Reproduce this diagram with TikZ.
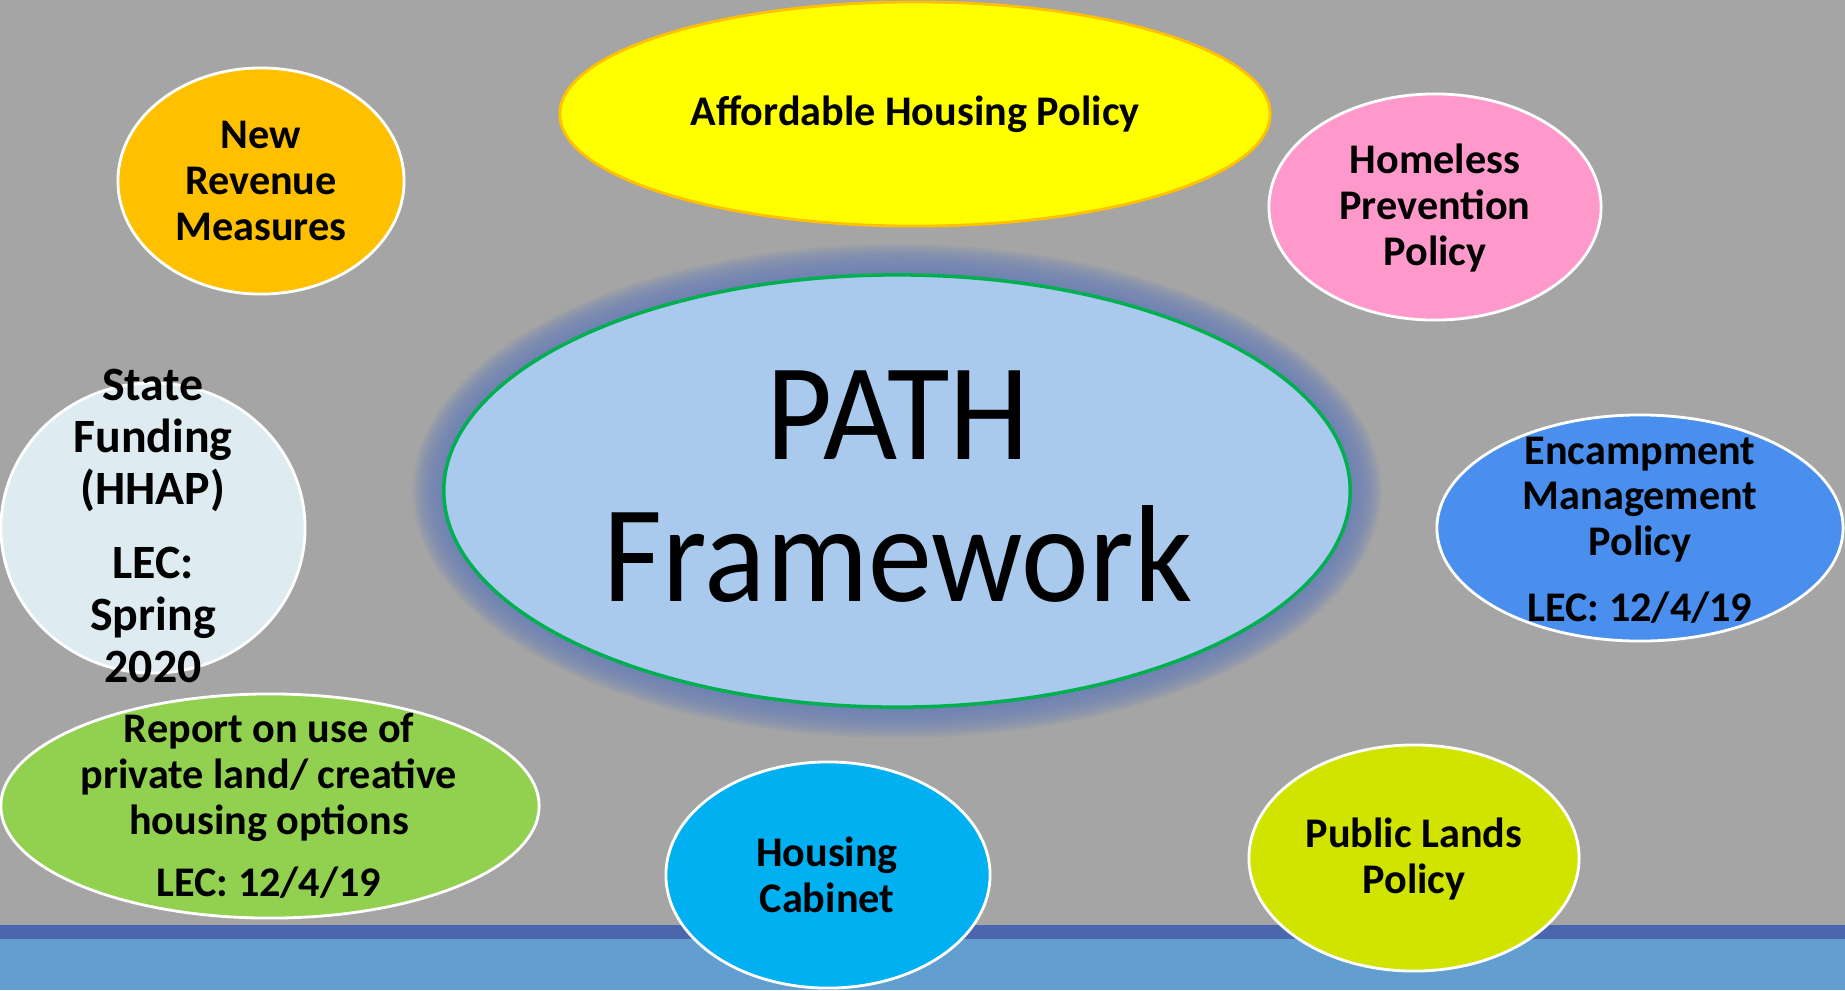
\documentclass[tikz,border=0pt]{standalone}
\usepackage{fontspec}
\setmainfont{Carlito}
\usepackage{tikz}
\usetikzlibrary{shapes.geometric}
\definecolor{slidegray}{HTML}{A5A5A5}
\definecolor{banddark}{HTML}{4A66AC}
\definecolor{bandlight}{HTML}{629FD0}
\definecolor{revorange}{HTML}{FFC000}
\definecolor{affyellow}{HTML}{FFFF00}
\definecolor{homepink}{HTML}{FF99CC}
\definecolor{pathblue}{HTML}{A9C9ED}
\definecolor{pathgreen}{HTML}{00B050}
\definecolor{glowblue}{HTML}{6C82B8}
\definecolor{statepale}{HTML}{DEEBF0}
\definecolor{reportgreen}{HTML}{92D050}
\definecolor{cabcyan}{HTML}{00B0F0}
\definecolor{landlime}{HTML}{D0E400}
\definecolor{encblue}{HTML}{4A8EEE}
\tikzstyle{bubble} = [
    ellipse,
    draw=white,
    line width=0.8pt,
    inner sep=0pt,
    minimum height=2.26cm
]
\tikzstyle{bubbletext} = [
    align=center,
    inner sep=0pt,
    font=\fontsize{12}{13}\selectfont\bfseries
]
\tikzstyle{bigtext} = [
    align=center,
    inner sep=0pt,
    font=\fontsize{13.6}{14.8}\selectfont\bfseries
]

\begin{document}
\begin{tikzpicture}[x=0.01cm, y=-0.01cm]
    % Slide background
    \useasboundingbox (0,0) rectangle (1845,990);
    \fill[slidegray] (0,0) rectangle (1845,990);
    \fill[banddark] (0,925) rectangle (1845,939);
    \fill[bandlight] (0,939) rectangle (1845,990);

    % Glow round the centre
    \coordinate (centre) at (897,491);
    \foreach \g in {1,...,14}
        \fill[glowblue, opacity=0.14] (centre) ellipse [x radius={4.53cm+\g*0.022cm}, y radius={2.16cm+\g*0.022cm}];

    % Centre
    \node[bubble, draw=pathgreen, line width=1pt, fill=pathblue, minimum width=9.06cm, minimum height=4.32cm] (path) at (centre) {};
    \node[align=center, inner sep=0pt, font=\fontsize{36.4}{40.4}\selectfont] (pathtext) at (898,487) {\scalebox{1}[1.08]{PATH}\\\scalebox{1}[1.08]{Framework}};

    % Surrounding policies
    \node[bubble, fill=revorange, minimum width=2.86cm] (revenue) at (261,181) {};
    \node[bubbletext] (revenuetext) at (261,181) {New\\Revenue\\Measures};

    \node[bubble, draw=revorange, fill=affyellow, minimum width=7.1cm, minimum height=2.24cm] (affordable) at (915,114) {};
    \node[bubbletext] (affordabletext) at (915,114) {Affordable Housing Policy};

    \node[bubble, fill=homepink, minimum width=3.32cm] (homeless) at (1435,207) {};
    \node[bubbletext] (homelesstext) at (1435,208) {Homeless\\Prevention\\Policy};

    \node[bubble, fill=statepale, minimum width=3.04cm, minimum height=2.9cm] (state) at (153,528) {};
    \node[bigtext] (statetext) at (153,526) {State\\Funding\\(HHAP)\\[6pt]LEC:\\Spring\\2020};

    \node[bubble, fill=reportgreen, minimum width=5.38cm, minimum height=2.24cm] (report) at (270,806) {};
    \node[bubbletext] (reporttext) at (269,806) {Report on use of\\private land/ creative\\housing options\\[4.8pt]LEC: 12/4/19};

    \node[bubble, fill=cabcyan, minimum width=3.24cm] (cabinet) at (828,875) {};
    \node[bubbletext] (cabinettext) at (827,875) {Housing\\Cabinet};

    \node[bubble, fill=landlime, minimum width=3.3cm] (lands) at (1414,858) {};
    \node[bubbletext] (landstext) at (1414,859) {Public Lands\\Policy};

    \node[bubble, fill=encblue, minimum width=4.06cm] (encamp) at (1640,528) {};
    \node[bubbletext] (encamptext) at (1640,530) {Encampment\\Management\\Policy\\[5.7pt]LEC: 12/4/19};
\end{tikzpicture}
\end{document}
